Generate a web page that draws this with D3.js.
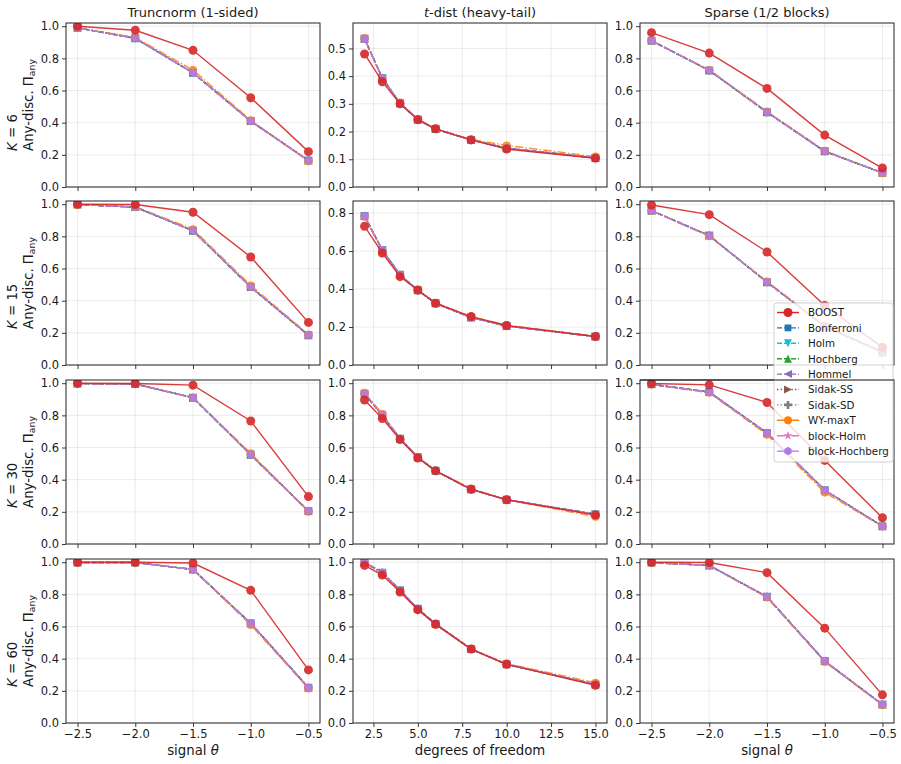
<!DOCTYPE html>
<html>
<head>
<meta charset="utf-8">
<script src="https://cdn.jsdelivr.net/npm/d3@7"></script>
<style>
  body { margin: 0; background: #fff; }
  text { font-family: "DejaVu Sans", sans-serif; fill: #1a1a1a; }
</style>
</head>
<body>
<svg id="fig" width="901" height="764"></svg>
<script>
// ---- data ----
var thetaX = [-2.5, -2.0, -1.5, -1.0, -0.5];
var dfX = [2, 3, 4, 5, 6, 8, 10, 15];
var thetaTicks = [-2.5, -2.0, -1.5, -1.0, -0.5];
var dfTicks = [2.5, 5.0, 7.5, 10.0, 12.5, 15.0];
var kValues = [6, 15, 30, 60];

var methods = ["BOOST", "Bonferroni", "Holm", "Hochberg", "Hommel",
               "Sidak-SS", "Sidak-SD", "WY-maxT", "block-Holm", "block-Hochberg"];

// rows are K = 6, 15, 30, 60
var boostTrunc = [
  [1.00, 0.975, 0.85, 0.555, 0.22],
  [1.00, 0.998, 0.95, 0.672, 0.265],
  [1.00, 0.998, 0.988, 0.765, 0.295],
  [1.00, 1.00, 0.995, 0.825, 0.33]
];
var fwerTrunc = [
  [0.99, 0.925, 0.71, 0.41, 0.165],
  [0.998, 0.982, 0.835, 0.485, 0.185],
  [0.998, 0.995, 0.91, 0.555, 0.205],
  [0.998, 0.998, 0.955, 0.62, 0.22]
];
var wyTrunc = [
  [0.99, 0.93, 0.728, 0.415, 0.16],
  [0.998, 0.985, 0.845, 0.495, 0.19],
  [0.998, 0.995, 0.91, 0.565, 0.20],
  [0.998, 0.998, 0.955, 0.61, 0.215]
];

var boostTdist = [
  [0.48, 0.38, 0.30, 0.243, 0.21, 0.17, 0.137, 0.104],
  [0.73, 0.59, 0.465, 0.395, 0.325, 0.255, 0.208, 0.15],
  [0.895, 0.78, 0.65, 0.535, 0.455, 0.34, 0.275, 0.18],
  [0.98, 0.92, 0.815, 0.705, 0.615, 0.46, 0.365, 0.235]
];
var fwerTdist = [
  [0.535, 0.393, 0.302, 0.243, 0.209, 0.17, 0.14, 0.105],
  [0.785, 0.605, 0.475, 0.393, 0.325, 0.25, 0.205, 0.15],
  [0.935, 0.80, 0.655, 0.54, 0.455, 0.34, 0.275, 0.185],
  [1.00, 0.935, 0.825, 0.71, 0.615, 0.46, 0.365, 0.24]
];
var wyTdist = [
  [0.538, 0.39, 0.305, 0.245, 0.21, 0.172, 0.15, 0.11],
  [0.78, 0.60, 0.472, 0.395, 0.327, 0.255, 0.21, 0.152],
  [0.94, 0.81, 0.655, 0.54, 0.455, 0.345, 0.275, 0.17],
  [0.995, 0.93, 0.82, 0.705, 0.61, 0.46, 0.37, 0.25]
];

var boostSparse = [
  [0.96, 0.833, 0.613, 0.323, 0.118],
  [0.995, 0.935, 0.703, 0.37, 0.11],
  [0.998, 0.99, 0.88, 0.52, 0.163],
  [1.00, 0.998, 0.935, 0.59, 0.175]
];
var fwerSparse = [
  [0.91, 0.725, 0.465, 0.222, 0.088],
  [0.96, 0.805, 0.515, 0.24, 0.08],
  [0.993, 0.945, 0.69, 0.335, 0.11],
  [0.998, 0.98, 0.785, 0.385, 0.115]
];
var wySparse = [
  [0.91, 0.728, 0.47, 0.225, 0.085],
  [0.96, 0.80, 0.52, 0.245, 0.08],
  [0.993, 0.94, 0.68, 0.32, 0.11],
  [0.998, 0.98, 0.78, 0.38, 0.112]
];

// ---- styles ----
var styles = {
  "BOOST":          {color: "#d62728", dash: null,        marker: "o",  ms: 9},
  "Bonferroni":     {color: "#1f77b4", dash: "5,2",       marker: "s",  ms: 8},
  "Holm":           {color: "#17becf", dash: "5,2",       marker: "v",  ms: 8},
  "Hochberg":       {color: "#2ca02c", dash: "5,2",       marker: "^",  ms: 8},
  "Hommel":         {color: "#9467bd", dash: "5,2",       marker: "<",  ms: 8},
  "Sidak-SS":       {color: "#8c564b", dash: "1.4,2.2",   marker: ">",  ms: 8},
  "Sidak-SD":       {color: "#7f7f7f", dash: "1.4,2.2",   marker: "P",  ms: 8},
  "WY-maxT":        {color: "#ff7f0e", dash: "8.5,2.2,1.4,2.2", marker: "o",  ms: 8},
  "block-Holm":     {color: "#e377c2", dash: "8.5,2.2,1.4,2.2", marker: "*",  ms: 9},
  "block-Hochberg": {color: "#b07be8", dash: "8.5,2.2,1.4,2.2", marker: "h",  ms: 8.5}
};

var svg = d3.select("#fig"),
    colLeft = [66, 353, 640],
    rowTop = [23, 201, 380, 559],
    pw = 254, ph = 164;

var columns = [
  {title: "Truncnorm (1-sided)", x: thetaX, ticks: thetaTicks, boost: boostTrunc, fwer: fwerTrunc, wy: wyTrunc, fixedTop: 1.02, xlabel: "signal"},
  {title: "t-dist (heavy-tail)", x: dfX, ticks: dfTicks, boost: boostTdist, fwer: fwerTdist, wy: wyTdist, fixedTop: null, xlabel: "degrees of freedom"},
  {title: "Sparse (1/2 blocks)", x: thetaX, ticks: thetaTicks, boost: boostSparse, fwer: fwerSparse, wy: wySparse, fixedTop: 1.02, xlabel: "signal"}
];

function poly(pts) { return "M" + pts.map(function(p) { return p[0].toFixed(2) + "," + p[1].toFixed(2); }).join("L") + "Z"; }

function regular(n, r, rot) {
  var pts = [];
  for (var i = 0; i < n; i++) {
    var a = rot + i * 2 * Math.PI / n;
    pts.push([r * Math.sin(a), -r * Math.cos(a)]);
  }
  return pts;
}

function markerPath(type, s) {
  var r = s / 2;
  if (type == "o") return "M" + r + ",0A" + r + "," + r + " 0 1,1 " + (-r) + ",0A" + r + "," + r + " 0 1,1 " + r + ",0Z";
  if (type == "s") { var q = r * 0.85; return poly([[-q, -q], [q, -q], [q, q], [-q, q]]); }
  if (type == "^") return poly([[0, -r], [r, r], [-r, r]]);
  if (type == "v") return poly([[0, r], [r, -r], [-r, -r]]);
  if (type == "<") return poly([[-r, 0], [r, -r], [r, r]]);
  if (type == ">") return poly([[r, 0], [-r, -r], [-r, r]]);
  if (type == "h") return poly(regular(6, r, 0));
  if (type == "P") {
    var a = r, b = r * 0.33;
    return poly([[-b, -a], [b, -a], [b, -b], [a, -b], [a, b], [b, b], [b, a], [-b, a], [-b, b], [-a, b], [-a, -b], [-b, -b]]);
  }
  if (type == "*") {
    var pts = [];
    for (var i = 0; i < 10; i++) {
      var rr = i % 2 == 0 ? r * 1.05 : r * 0.42, ang = i * Math.PI / 5;
      pts.push([rr * Math.sin(ang), -rr * Math.cos(ang)]);
    }
    return poly(pts);
  }
}

var fmt1 = d3.format(".1f");

columns.forEach(function(col, c) {
  var xmin = d3.min(col.x), xmax = d3.max(col.x), pad = 0.05 * (xmax - xmin);

  kValues.forEach(function(K, r) {
    var g = svg.append("g").attr("transform", "translate(" + colLeft[c] + "," + rowTop[r] + ")");

    var seriesVals = {};
    methods.forEach(function(m) {
      if (m == "BOOST") seriesVals[m] = col.boost[r];
      else if (m == "WY-maxT") seriesVals[m] = col.wy[r];
      else seriesVals[m] = col.fwer[r];
    });
    var ymax = d3.max(methods, function(m) { return d3.max(seriesVals[m]); });
    var top = col.fixedTop ? col.fixedTop : Math.min(1.02, ymax * 1.1);

    var x = d3.scaleLinear().domain([xmin - pad, xmax + pad]).range([0, pw]);
    var y = d3.scaleLinear().domain([0, top]).range([ph, 0]);
    var yticks = y.ticks(6);

    // grid
    g.append("g").selectAll("line").data(col.ticks).enter().append("line")
      .attr("x1", x).attr("x2", x).attr("y1", 0).attr("y2", ph)
      .attr("stroke", "#b0b0b0").attr("stroke-opacity", 0.3).attr("stroke-width", 0.8);
    g.append("g").selectAll("line").data(yticks).enter().append("line")
      .attr("y1", y).attr("y2", y).attr("x1", 0).attr("x2", pw)
      .attr("stroke", "#b0b0b0").attr("stroke-opacity", 0.3).attr("stroke-width", 0.8);

    var clipId = "clip" + r + "_" + c;
    g.append("clipPath").attr("id", clipId).append("rect").attr("width", pw).attr("height", ph);
    var plot = g.append("g").attr("clip-path", "url(#" + clipId + ")");

    var line = d3.line().x(function(d) { return x(d[0]); }).y(function(d) { return y(d[1]); });

    // baselines first, BOOST on top
    var order = methods.slice(1).concat(["BOOST"]);
    order.forEach(function(m) {
      var st = styles[m];
      var pts = col.x.map(function(v, i) { return [v, seriesVals[m][i]]; });
      var sg = plot.append("g").attr("opacity", m == "BOOST" ? 0.9 : 0.85);
      sg.append("path").datum(pts).attr("d", line)
        .attr("fill", "none").attr("stroke", st.color).attr("stroke-width", 1.4)
        .attr("stroke-dasharray", st.dash);
      sg.selectAll(".mk").data(pts).enter().append("path")
        .attr("class", "mk")
        .attr("transform", function(d) { return "translate(" + x(d[0]) + "," + y(d[1]) + ")"; })
        .attr("d", markerPath(st.marker, st.ms))
        .attr("fill", st.color);
    });

    // axes
    var xa = g.append("g").attr("transform", "translate(0," + ph + ")")
      .call(d3.axisBottom(x).tickValues(col.ticks).tickSize(4).tickPadding(3)
        .tickFormat(r == 3 ? fmt1 : ""));
    var ya = g.append("g")
      .call(d3.axisLeft(y).tickValues(yticks).tickSize(4).tickPadding(3).tickFormat(fmt1));
    [xa, ya].forEach(function(a) {
      a.select(".domain").remove();
      a.selectAll(".tick line").attr("stroke", "#222").attr("stroke-width", 0.9);
      a.selectAll(".tick text").attr("font-size", "11.5px").attr("fill", "#1a1a1a")
        .attr("font-family", "DejaVu Sans, sans-serif");
    });

    g.append("rect").attr("width", pw).attr("height", ph)
      .attr("fill", "none").attr("stroke", "#222").attr("stroke-width", 1);

    if (r == 0) {
      var tt = g.append("text").attr("x", pw / 2).attr("y", -6)
        .attr("text-anchor", "middle").attr("font-size", "13px");
      if (c == 1) {
        tt.append("tspan").attr("font-style", "italic").text("t");
        tt.append("tspan").text("-dist (heavy-tail)");
      } else tt.text(col.title);
    }

    if (r == 3) {
      var xl = g.append("text").attr("x", pw / 2).attr("y", ph + 32)
        .attr("text-anchor", "middle").attr("font-size", "13.3px");
      xl.append("tspan").text(col.xlabel);
      if (col.xlabel == "signal") {
        xl.append("tspan").text(" ");
        xl.append("tspan").attr("font-style", "italic").text("θ");
      }
    }

    if (c == 0) {
      var cy = rowTop[r] + ph / 2;
      var l2 = svg.append("text").attr("font-size", "13.3px").attr("text-anchor", "start");
      l2.append("tspan").text("Any-disc. Π");
      l2.append("tspan").attr("font-size", "9.3px").attr("dy", 2.5).text("any");
      var len = l2.node().getComputedTextLength();
      var start = cy + len / 2;
      l2.attr("transform", "translate(32.5," + start + ") rotate(-90)");
      var l1 = svg.append("text").attr("font-size", "13.3px").attr("text-anchor", "start")
        .attr("transform", "translate(16.5," + start + ") rotate(-90)");
      l1.append("tspan").attr("font-style", "italic").text("K");
      l1.append("tspan").text(" = " + K);
    }
  });
});

// ---- legend (sits in the K = 15 sparse panel, hanging below it) ----
var lg = svg.append("g").attr("transform", "translate(774,303)");
lg.append("rect").attr("width", 119).attr("height", 159).attr("rx", 2.5)
  .attr("fill", "#fff").attr("fill-opacity", 0.8).attr("stroke", "#cccccc").attr("stroke-width", 0.9);
methods.forEach(function(m, i) {
  var st = styles[m], yy = 9.5 + i * 15.4;
  var e = lg.append("g").attr("transform", "translate(0," + yy + ")");
  e.append("line").attr("x1", 3).attr("x2", 25)
    .attr("stroke", st.color).attr("stroke-width", 1.4).attr("stroke-dasharray", st.dash);
  e.append("path").attr("transform", "translate(14,0)").attr("d", markerPath(st.marker, st.ms))
    .attr("fill", st.color);
  e.append("text").attr("x", 34).attr("y", 3.8).attr("font-size", "10.3px").text(m);
});

// the K = 30 sparse panel's top spine draws over the hanging legend
svg.append("line")
  .attr("x1", colLeft[2]).attr("x2", colLeft[2] + pw)
  .attr("y1", rowTop[2]).attr("y2", rowTop[2])
  .attr("stroke", "#222").attr("stroke-width", 1);
</script>
</body>
</html>
